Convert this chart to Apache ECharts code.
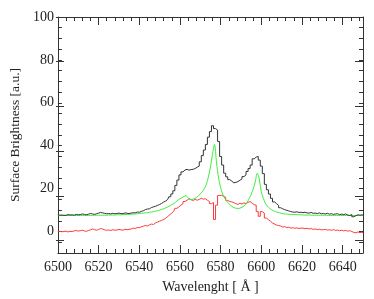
<!DOCTYPE html>
<html>
<head>
<meta charset="utf-8">
<script src="https://cdn.jsdelivr.net/npm/echarts@6/dist/echarts.min.js"></script>
<style>html,body{margin:0;padding:0;background:#fff}#c{width:374px;height:299px}</style>
</head>
<body>
<div id="c"></div>
<script>
// Wavelength grid (Å): 6500..6650 in 1 Å steps
const wlStart = 6500;
const observed = [
7.8,7.6,7.7,7.5,7.6,7.9,7.7,7.8,7.6,8.0,
7.8,7.9,8.2,8.0,7.8,8.1,8.4,8.2,8.0,8.3,
8.6,8.9,8.7,8.5,8.3,8.4,8.2,8.5,8.3,8.4,
8.6,8.4,8.3,8.7,8.5,8.4,8.6,8.8,8.7,9.1,
9.0,9.4,9.7,10.2,10.5,10.6,11.2,11.5,11.8,12.2,
12.6,13.1,13.8,14.2,15.0,16.2,17.5,19.0,21.5,24.0,
26.4,27.8,28.7,29.0,28.6,28.9,29.0,29.4,30.0,30.5,
32.5,35.4,38.0,40.6,44.0,46.6,49.3,48.0,47.3,42.0,
35.0,31.0,27.2,25.5,24.2,23.5,22.7,22.9,23.3,23.9,
24.5,25.6,26.4,28.0,29.4,31.0,33.9,34.7,35.0,33.3,
30.5,27.0,22.0,19.5,17.5,15.5,13.8,13.0,12.2,11.1,
10.6,10.2,9.9,9.6,9.3,9.1,9.0,9.2,8.9,9.0,
8.8,9.0,8.7,8.6,8.9,8.5,8.6,8.4,8.7,8.3,
8.4,8.2,8.5,8.1,8.3,8.0,8.2,8.3,7.9,8.1,
7.9,8.2,7.7,7.5,7.9,6.9,7.4,7.8,7.6,7.8,7.6
];
const fit = [
7.5,7.5,7.5,7.5,7.5,7.5,7.5,7.5,7.5,7.5,
7.5,7.5,7.5,7.5,7.5,7.5,7.5,7.5,7.6,7.6,
7.6,7.6,7.6,7.6,7.6,7.7,7.7,7.7,7.7,7.8,
7.8,7.8,7.9,7.9,8.0,8.0,8.1,8.1,8.2,8.3,
8.4,8.5,8.6,8.7,8.8,9.0,9.1,9.3,9.5,9.7,
10.0,10.3,10.6,11.0,11.5,12.0,12.6,13.0,13.8,14.6,
15.3,15.8,16.3,16.8,15.6,15.0,15.0,15.3,15.8,16.5,
17.5,18.5,20.0,22.0,25.5,30.0,36.0,40.6,32.0,25.0,
20.5,17.5,15.5,14.2,13.0,12.1,11.4,11.0,10.8,10.8,
11.1,11.6,12.4,13.6,15.3,17.3,19.8,23.0,27.2,24.5,
18.5,15.5,13.2,11.8,10.9,10.2,9.7,9.3,9.0,8.7,
8.5,8.3,8.2,8.1,8.0,8.0,7.9,7.9,7.8,7.8,
7.8,7.7,7.7,7.7,7.7,7.6,7.6,7.6,7.6,7.6,
7.6,7.6,7.6,7.5,7.5,7.5,7.5,7.5,7.5,7.5,
7.5,7.5,7.5,7.5,7.5,7.5,7.5,7.5,7.5,7.5,7.5
];
const residual = [
0.0,0.1,-0.1,0.0,0.2,-0.2,0.1,0.0,0.3,0.5,
0.2,0.4,0.6,0.3,0.1,0.5,0.8,1.2,0.9,0.6,
1.0,1.4,1.2,0.8,0.6,0.7,0.5,0.9,0.6,0.7,
1.0,0.8,0.6,1.1,0.9,1.0,1.2,1.6,1.4,1.9,
1.8,2.2,2.5,2.8,2.6,3.1,3.5,3.3,4.0,4.4,
4.8,5.2,5.6,6.2,7.0,7.8,8.6,9.5,10.8,11.5,
12.3,13.0,14.0,14.6,15.3,14.8,14.5,15.0,14.6,15.0,
15.5,15.1,15.3,14.6,14.0,13.0,13.5,5.6,12.3,16.8,
16.9,16.4,16.0,14.5,14.0,13.8,13.5,13.0,12.6,13.2,
12.8,13.4,13.0,13.6,14.0,13.2,12.5,12.3,9.3,7.1,
9.3,8.6,6.3,5.5,4.8,4.0,3.5,3.0,2.8,2.6,
2.1,2.3,1.9,2.0,1.6,1.8,1.5,1.7,1.4,1.6,
1.6,1.3,1.5,1.2,1.4,1.0,1.2,0.9,1.1,0.8,
0.9,1.0,0.7,0.8,0.6,0.9,0.5,0.7,0.4,0.6,
0.3,0.5,0.2,0.4,0.0,-0.4,-0.6,-0.2,-0.5,-0.3,-0.6
];
const yMajorTicks = [0, 20, 40, 60, 80, 100];
const xTitle = 'Wavelenght [ Å ]';
const yTitle = 'Surface Brightness [a.u.]';

const pairs = arr => arr.map((v, i) => [wlStart + i, v]);
const font = 'Liberation Serif';
const fs = 14;
const axisCol = '#333';
const gridRect = {left: 56, right: 11, top: 17, bottom: 36};

const chart = echarts.init(document.getElementById('c'), null, {renderer: 'canvas'});
const xBase = {
  type: 'value', min: 6500, max: 6650, interval: 20,
  axisLine: {show: true, onZero: false, lineStyle: {color: axisCol, width: 1}},
  axisTick: {show: true, inside: true, length: 8, lineStyle: {color: axisCol}},
  minorTick: {show: true, splitNumber: 5, length: 4, lineStyle: {color: axisCol}},
  splitLine: {show: false}
};
const yMinor = {
  type: 'value', min: -10, max: 100, interval: 5,
  axisLine: {show: true, onZero: false, lineStyle: {color: axisCol, width: 1}},
  axisTick: {show: true, inside: true, length: 4, lineStyle: {color: axisCol}},
  splitLine: {show: false}
};
const yMajor = {
  type: 'value', min: -10, max: 100, gridIndex: 1,
  axisLine: {show: false, onZero: false},
  axisTick: {show: true, inside: true, length: 8, customValues: yMajorTicks, lineStyle: {color: axisCol}},
  axisLabel: {show: false},
  splitLine: {show: false}
};
chart.setOption({
  animation: false,
  backgroundColor: '#fff',
  textStyle: {fontFamily: font},
  grid: [Object.assign({}, gridRect), Object.assign({}, gridRect)],
  xAxis: [
    Object.assign({}, xBase, {
      position: 'bottom',
      axisLabel: {show: true, color: '#222', fontFamily: font, fontSize: fs, margin: 7,
                  formatter: v => String(v)},
      name: xTitle, nameLocation: 'middle', nameGap: 27,
      nameTextStyle: {color: '#222', fontFamily: font, fontSize: fs}
    }),
    Object.assign({}, xBase, {position: 'top', axisLabel: {show: false}}),
    {type: 'value', min: 6500, max: 6650, gridIndex: 1, show: false, axisLine: {onZero: false}}
  ],
  yAxis: [
    Object.assign({}, yMinor, {
      position: 'left',
      axisLabel: {show: true, customValues: yMajorTicks, color: '#222', fontFamily: font, fontSize: fs, margin: 4,
                  formatter: v => String(v)},
      name: yTitle, nameLocation: 'middle', nameGap: 29, nameRotate: 90,
      nameTextStyle: {color: '#222', fontFamily: font, fontSize: 13.5}
    }),
    Object.assign({}, yMinor, {position: 'right', axisLabel: {show: false}}),
    Object.assign({}, yMajor, {position: 'left'}),
    Object.assign({}, yMajor, {position: 'right'})
  ],
  series: [
    {type: 'line', xAxisIndex: 0, yAxisIndex: 0, data: pairs(residual), step: 'middle',
     showSymbol: false, lineStyle: {color: '#ff3a3a', width: 1}, z: 2},
    {type: 'line', xAxisIndex: 0, yAxisIndex: 0, data: pairs(fit), smooth: 0.3,
     showSymbol: false, lineStyle: {color: '#3ced3c', width: 1}, z: 3},
    {type: 'line', xAxisIndex: 0, yAxisIndex: 0, data: pairs(observed), step: 'middle',
     showSymbol: false, lineStyle: {color: '#333333', width: 1}, z: 4}
  ]
});
</script>
</body>
</html>
